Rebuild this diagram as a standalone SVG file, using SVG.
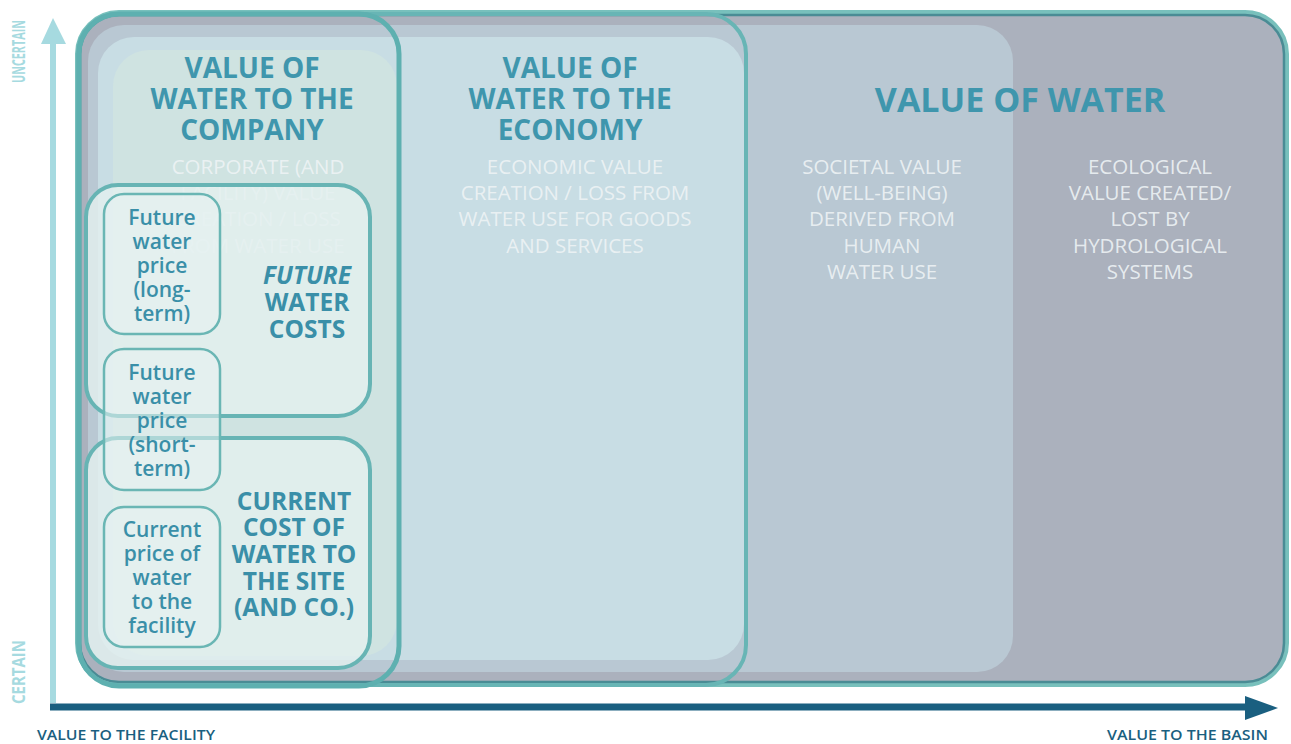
<svg xmlns="http://www.w3.org/2000/svg" width="1291" height="744" viewBox="0 0 1291 744">
<defs>
<style>
.title{font-family:"Open Sans","Noto Sans",sans-serif;font-weight:700;fill:#3f96ad;text-anchor:middle}
.sub{font-family:"Open Sans","Noto Sans",sans-serif;font-weight:400;font-size:20.5px;fill:#eef3f5;fill-opacity:0.9;text-anchor:middle}
.small{font-family:"Open Sans","Noto Sans",sans-serif;font-weight:600;font-size:21px;fill:#3a8fa8;text-anchor:middle}
.mid{font-family:"Open Sans","Noto Sans",sans-serif;font-weight:700;font-size:24.5px;fill:#3a8fa8;text-anchor:middle}
.axis{font-family:"Open Sans","Noto Sans",sans-serif;font-weight:600;font-size:15px;fill:#1a5f80}
.vaxis{font-family:"Open Sans","Noto Sans",sans-serif;font-weight:700;font-size:17px;fill:#a6dae0}
.box{fill:#e4f0ef;fill-opacity:0.8;stroke:#67b4b4;stroke-width:4}
.sbox{fill:#e8f3f2;fill-opacity:0.55;stroke:#6ab6b4;stroke-width:2.5}
</style>
</defs>

<g id="value-of-water">
<rect x="77" y="12" width="1210" height="673" rx="42" fill="#abb1bd" stroke="#78c0bc" stroke-width="4"/>
<rect x="80" y="15" width="1204" height="667" rx="39" fill="none" stroke="#4a8c95" stroke-width="2.5"/>
</g>

<g id="societal">
<rect x="88" y="25" width="925" height="647" rx="36" fill="#b9c8d3"/>
</g>

<g id="economy">
<rect x="98" y="37" width="646" height="623" rx="36" fill="#c8dde4"/>
</g>

<g id="company">
<rect x="113" y="50" width="284" height="606" rx="36" fill="#cfe3e1"/>
</g>

<g id="region-texts">
<text class="title" x="1020" y="112" font-size="34">VALUE OF WATER</text>
<g class="sub">
<text x="1150" y="174">ECOLOGICAL</text>
<text x="1150" y="200">VALUE CREATED/</text>
<text x="1150" y="226">LOST BY</text>
<text x="1150" y="253">HYDROLOGICAL</text>
<text x="1150" y="279">SYSTEMS</text>
<text x="882" y="174">SOCIETAL VALUE</text>
<text x="882" y="200">(WELL-BEING)</text>
<text x="882" y="226">DERIVED FROM</text>
<text x="882" y="253">HUMAN</text>
<text x="882" y="279">WATER USE</text>
<text x="575" y="174">ECONOMIC VALUE</text>
<text x="575" y="200">CREATION / LOSS FROM</text>
<text x="575" y="226">WATER USE FOR GOODS</text>
<text x="575" y="253">AND SERVICES</text>
<text x="258" y="174">CORPORATE (AND</text>
<text x="258" y="200">FACILITY) VALUE</text>
<text x="258" y="226">CREATION / LOSS</text>
<text x="258" y="253">FROM WATER USE</text>
</g>
<text class="title" x="570" y="78" font-size="28">VALUE OF</text>
<text class="title" x="570" y="109" font-size="28">WATER TO THE</text>
<text class="title" x="570" y="140" font-size="28">ECONOMY</text>
<text class="title" x="252" y="78" font-size="28">VALUE OF</text>
<text class="title" x="252" y="109" font-size="28">WATER TO THE</text>
<text class="title" x="252" y="140" font-size="28">COMPANY</text>
</g>

<g id="outlines">
<rect x="78" y="14" width="668" height="671" rx="40" fill="none" stroke="#68b5b5" stroke-width="4"/>
<rect x="79" y="14" width="320" height="672" rx="40" fill="none" stroke="#5eb0b0" stroke-width="5"/>
</g>

<g id="future-water-costs">
<rect class="box" x="86" y="185" width="284" height="231" rx="32"/>
<text class="mid" x="307" y="284" font-style="italic">FUTURE</text>
<text class="mid" x="307" y="311">WATER</text>
<text class="mid" x="307" y="338">COSTS</text>
</g>

<g id="current-cost">
<rect class="box" x="86" y="438" width="284" height="230" rx="32"/>
<text class="mid" x="294" y="510">CURRENT</text>
<text class="mid" x="294" y="536">COST OF</text>
<text class="mid" x="294" y="563">WATER TO</text>
<text class="mid" x="294" y="590">THE SITE</text>
<text class="mid" x="294" y="616">(AND CO.)</text>
</g>

<g id="future-price-long">
<rect class="sbox" x="104" y="194" width="116" height="140" rx="20"/>
<text class="small" x="162" y="225">Future</text>
<text class="small" x="162" y="249">water</text>
<text class="small" x="162" y="273">price</text>
<text class="small" x="162" y="297">(long-</text>
<text class="small" x="162" y="321">term)</text>
</g>

<g id="future-price-short">
<rect class="sbox" x="104" y="349" width="116" height="141" rx="20"/>
<text class="small" x="162" y="380">Future</text>
<text class="small" x="162" y="404">water</text>
<text class="small" x="162" y="428">price</text>
<text class="small" x="162" y="452">(short-</text>
<text class="small" x="162" y="476">term)</text>
</g>

<g id="current-price">
<rect class="sbox" x="104" y="507" width="116" height="140" rx="20"/>
<text class="small" x="162" y="537">Current</text>
<text class="small" x="162" y="561">price of</text>
<text class="small" x="162" y="585">water</text>
<text class="small" x="162" y="609">to the</text>
<text class="small" x="162" y="633">facility</text>
</g>

<g id="connectors">
<line x1="53" y1="703" x2="53" y2="40" stroke="#a6dae0" stroke-width="6"/>
<polygon points="41,44 53,18 66,44" fill="#a6dae0"/>
<line x1="50" y1="707" x2="1248" y2="707" stroke="#1a5f80" stroke-width="7"/>
<polygon points="1245,696 1278,708 1245,720" fill="#1a5f80"/>
</g>

<g id="axis-labels">
<text class="vaxis" transform="translate(25,83) rotate(-90)" textLength="63" lengthAdjust="spacingAndGlyphs">UNCERTAIN</text>
<text class="vaxis" transform="translate(25,704) rotate(-90)" textLength="64" lengthAdjust="spacingAndGlyphs">CERTAIN</text>
<text class="axis" x="37" y="740" textLength="178" lengthAdjust="spacingAndGlyphs">VALUE TO THE FACILITY</text>
<text class="axis" x="1107" y="740" textLength="161" lengthAdjust="spacingAndGlyphs">VALUE TO THE BASIN</text>
</g>
</svg>
